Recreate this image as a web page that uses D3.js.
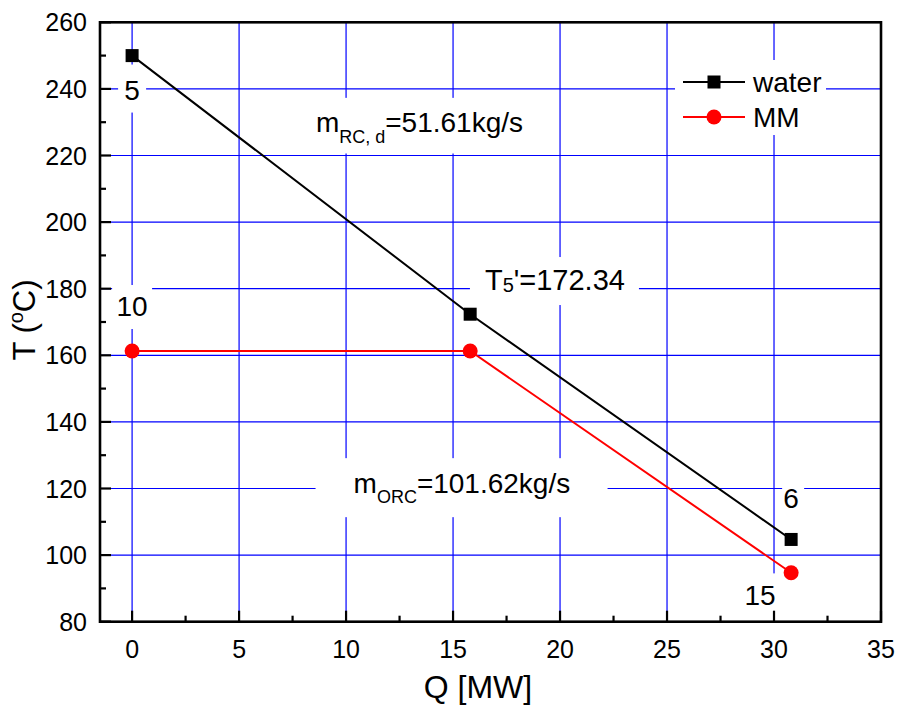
<!DOCTYPE html>
<html><head><meta charset="utf-8">
<script src="https://cdn.jsdelivr.net/npm/d3@7"></script>
<style>body{margin:0;background:#fff} svg text{font-family:Arial,"Liberation Sans",sans-serif;fill:#000}</style>
</head><body><svg id="c" width="900" height="708"></svg>
<script>
// ---- data ----
const seriesNames = ["water", "MM"];
const waterQ = [0, 15.8, 30.8];
const waterT = [250, 172.34, 104.7];
const mmQ = [0, 15.8, 30.8];
const mmT = [161.3, 161.3, 94.7];
const xTicks = [0, 5, 10, 15, 20, 25, 30, 35];
const yTicks = [80, 100, 120, 140, 160, 180, 200, 220, 240, 260];
const pointLabels = ["5", "10", "6", "15"];
const pointLabelQ = [0, 0, 30.8, 29.35];
const pointLabelT = [236.8, 171.8, 114.2, 84.9];
const xTitle = "Q [MW]";

// ---- layout ----
const svg = d3.select("#c");
const L = 100, R = 881, T = 22.3, B = 621.7;
const x = d3.scaleLinear().domain([-1.5, 35]).range([L, R]);
const y = d3.scaleLinear().domain([80, 260]).range([B, T]);
const blue = "#0000ff", red = "#ff0000";

// white boxes behind labels (drawn first, grid drawn with gaps via masks below)
function box(x0, y0, x1, y1) {
  svg.append("rect").attr("x", x0).attr("y", y0).attr("width", x1 - x0).attr("height", y1 - y0).attr("fill", "#fff");
}

// grid
const g = svg.append("g");
g.selectAll("line.vx").data(xTicks.filter(d => d < 35)).join("line")
  .attr("x1", d => x(d)).attr("x2", d => x(d)).attr("y1", T).attr("y2", B)
  .attr("stroke", blue).attr("stroke-width", 1.2);
g.selectAll("line.hy").data(yTicks.filter(d => d > 80 && d < 260)).join("line")
  .attr("y1", d => y(d)).attr("y2", d => y(d)).attr("x1", L).attr("x2", R)
  .attr("stroke", blue).attr("stroke-width", 1.2);

const annX = [x(8.59), x(16.49), x(10.35)];
const annY = [y(227.1), y(179.6), y(118.6)];
box(annX[0] - 36, annY[0] - 34, annX[0] + 242, y(220) - 2);
box(annX[1] - 15, annY[1] - 33, annX[1] + 154, annY[1] + 15);
box(annX[2] - 38, annY[2] - 35, annX[2] + 254, annY[2] + 24);
const plBox = [[-14, -35, 14, 13], [-20, -31, 20, 13], [-9, -25, 13, 10], [-18, -32, 18, 10]];
pointLabels.forEach((t, i) => {
  const px = x(pointLabelQ[i]), py = y(pointLabelT[i]), b = plBox[i];
  box(px + b[0], py + b[1], px + b[2], py + b[3]);
});
// legend box
box(675, 60, 826, 135);

// axes frame
svg.append("rect").attr("x", L).attr("y", T).attr("width", R - L).attr("height", B - T)
  .attr("fill", "none").attr("stroke", "#000").attr("stroke-width", 2.6);

// ticks
const xMinor = d3.range(0, 35.01, 2.5).filter(d => d % 5 !== 0);
svg.selectAll("line.xt").data(xTicks).join("line")
  .attr("x1", d => x(d)).attr("x2", d => x(d)).attr("y1", B).attr("y2", B - 11)
  .attr("stroke", "#000").attr("stroke-width", 2.2);
svg.selectAll("line.xm").data(xMinor).join("line")
  .attr("x1", d => x(d)).attr("x2", d => x(d)).attr("y1", B).attr("y2", B - 6)
  .attr("stroke", "#000").attr("stroke-width", 2.2);
const yMinor = d3.range(90, 260, 20);
svg.selectAll("line.yt").data(yTicks).join("line")
  .attr("y1", d => y(d)).attr("y2", d => y(d)).attr("x1", L).attr("x2", L + 11)
  .attr("stroke", "#000").attr("stroke-width", 2.2);
svg.selectAll("line.ym").data(yMinor).join("line")
  .attr("y1", d => y(d)).attr("y2", d => y(d)).attr("x1", L).attr("x2", L + 6)
  .attr("stroke", "#000").attr("stroke-width", 2.2);

// tick labels
svg.selectAll("text.xl").data(xTicks).join("text")
  .attr("x", d => x(d)).attr("y", 658).attr("text-anchor", "middle")
  .attr("font-size", 25).text(d => d);
svg.selectAll("text.yl").data(yTicks).join("text")
  .attr("x", L - 13).attr("y", d => y(d) + 9).attr("text-anchor", "end")
  .attr("font-size", 25).text(d => d);

// axis titles
svg.append("text").attr("x", 478).attr("y", 698).attr("text-anchor", "middle")
  .attr("font-size", 32).text(xTitle);
const yt = svg.append("text").attr("transform", "translate(35,320) rotate(-90)")
  .attr("text-anchor", "middle").attr("font-size", 31);
yt.append("tspan").text("T (");
yt.append("tspan").attr("font-size", 20).attr("dy", -12).text("o");
yt.append("tspan").attr("dy", 12).text("C)");

// lines
const line = d3.line().x(d => x(d[0])).y(d => y(d[1]));
const wData = waterQ.map((q, i) => [q, waterT[i]]);
const mData = mmQ.map((q, i) => [q, mmT[i]]);
svg.append("path").datum(wData).attr("d", line).attr("fill", "none").attr("stroke", "#000").attr("stroke-width", 2);
svg.append("path").datum(mData).attr("d", line).attr("fill", "none").attr("stroke", red).attr("stroke-width", 2);
svg.selectAll("rect.wm").data(wData).join("rect")
  .attr("x", d => x(d[0]) - 6.5).attr("y", d => y(d[1]) - 6.5).attr("width", 13).attr("height", 13).attr("fill", "#000");
svg.selectAll("circle.mm").data(mData).join("circle")
  .attr("cx", d => x(d[0])).attr("cy", d => y(d[1])).attr("r", 7.5).attr("fill", red);

// point labels
svg.selectAll("text.pl").data(pointLabels).join("text")
  .attr("x", (d, i) => x(pointLabelQ[i])).attr("y", (d, i) => y(pointLabelT[i]))
  .attr("text-anchor", "middle").attr("font-size", 28).text(d => d);

// annotations
const a1 = svg.append("text").attr("x", annX[0]).attr("y", annY[0]).attr("font-size", 28);
a1.append("tspan").text("m");
a1.append("tspan").attr("font-size", 18).attr("dy", 11).text("RC, d");
a1.append("tspan").attr("dy", -11).text("=51.61kg/s");
const a2 = svg.append("text").attr("x", annX[1]).attr("y", annY[1]).attr("font-size", 29);
a2.append("tspan").text("T");
a2.append("tspan").attr("font-size", 20).attr("dy", 2).text("5");
a2.append("tspan").attr("dy", -2).text("'=172.34");
const a3 = svg.append("text").attr("x", annX[2]).attr("y", annY[2]).attr("font-size", 28);
a3.append("tspan").text("m");
a3.append("tspan").attr("font-size", 18).attr("dy", 10).text("ORC");
a3.append("tspan").attr("dy", -10).text("=101.62kg/s");

// legend
const lg = svg.append("g");
const legY = [82, 117];
lg.selectAll("line").data(seriesNames).join("line")
  .attr("x1", 683).attr("x2", 745).attr("y1", (d, i) => legY[i]).attr("y2", (d, i) => legY[i])
  .attr("stroke", (d, i) => i ? red : "#000").attr("stroke-width", 2);
lg.append("rect").attr("x", 714 - 6.5).attr("y", legY[0] - 6.5).attr("width", 13).attr("height", 13).attr("fill", "#000");
lg.append("circle").attr("cx", 714).attr("cy", legY[1]).attr("r", 7.5).attr("fill", red);
lg.selectAll("text").data(seriesNames).join("text")
  .attr("x", 753).attr("y", (d, i) => legY[i] + 10).attr("font-size", 28).text(d => d);
</script></body></html>
